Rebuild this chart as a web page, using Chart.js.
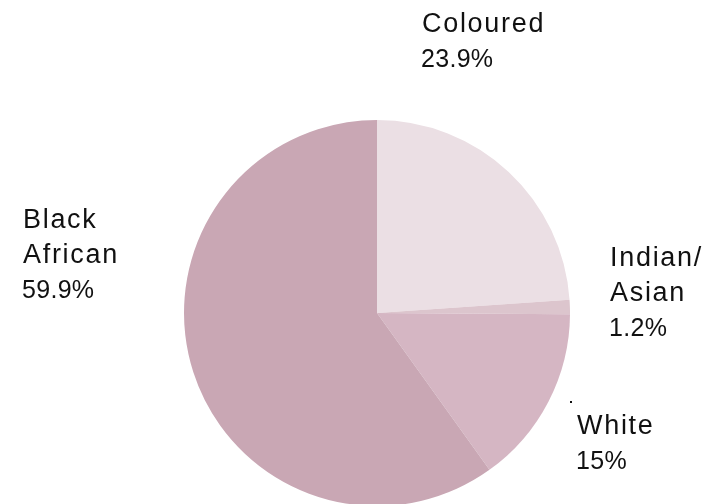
<!DOCTYPE html>
<html>
<head>
<meta charset="utf-8">
<script src="https://cdn.jsdelivr.net/npm/chart.js@4"></script>
<style>
html,body{margin:0;padding:0;background:#fff;overflow:hidden;}
#wrap{position:absolute;left:0;top:0;width:707px;height:510px;}
</style>
</head>
<body>
<div id="wrap"><canvas id="c"></canvas></div>
<script>
const categories = ["Coloured", "Indian/Asian", "White", "Black African"];
const values = [23.9, 1.2, 15, 59.9];
const nameLines = [["Coloured"], ["Indian/", "Asian"], ["White"], ["Black", "African"]];
const percentLabels = ["23.9%", "1.2%", "15%", "59.9%"];
const colors = ["#ebdfe4", "#dcc5cd", "#d5b6c3", "#c9a7b4"];

const labelPos = [
  {x: 422, y: 32},
  {x: 610, y: 266},
  {x: 577, y: 434},
  {x: 23, y: 228}
];

const labelsPlugin = {
  id: 'outerLabels',
  afterDraw(chart) {
    const ctx = chart.ctx;
    ctx.save();
    ctx.fillStyle = '#111';
    ctx.textBaseline = 'alphabetic';
    ctx.textAlign = 'left';
    nameLines.forEach((lines, i) => {
      const p = labelPos[i];
      ctx.font = '27px "Liberation Sans", Arial, sans-serif';
      try { ctx.letterSpacing = '1.7px'; } catch (e) {}
      lines.forEach((t, j) => ctx.fillText(t, p.x, p.y + j * 35));
      ctx.font = '25px "Liberation Sans", Arial, sans-serif';
      try { ctx.letterSpacing = '0.3px'; } catch (e) {}
      ctx.fillText(percentLabels[i], p.x - 1, p.y + lines.length * 35);
    });
    ctx.fillRect(570, 401, 2, 2);
    ctx.restore();
  }
};

new Chart(document.getElementById('c'), {
  type: 'pie',
  data: {
    labels: categories,
    datasets: [{
      data: values,
      backgroundColor: colors,
      borderWidth: 0
    }]
  },
  options: {
    responsive: true,
    maintainAspectRatio: false,
    animation: false,
    layout: {padding: {left: 184, right: 137, top: 120, bottom: 4}},
    plugins: {legend: {display: false}, tooltip: {enabled: false}}
  },
  plugins: [labelsPlugin]
});
</script>
</body>
</html>
